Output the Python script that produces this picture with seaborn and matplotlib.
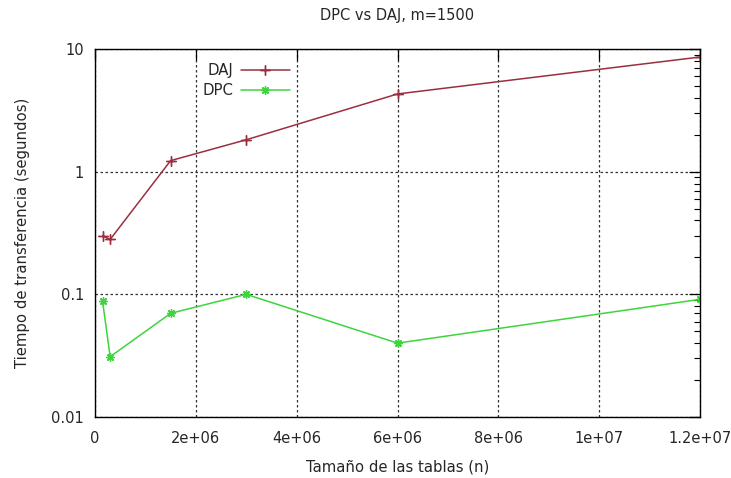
import numpy as np
import pandas as pd
import matplotlib
matplotlib.use('Agg')
import matplotlib.pyplot as plt
import seaborn as sns
from matplotlib.ticker import FixedLocator, NullFormatter, LogLocator

# datos
n_tablas = [150000, 300000, 1500000, 3000000, 6000000, 12000000]
t_daj = [0.30, 0.28, 1.23, 1.82, 4.3, 8.6]
t_dpc = [0.088, 0.031, 0.070, 0.100, 0.040, 0.091]
x_ticks = [0, 2e6, 4e6, 6e6, 8e6, 1e7, 1.2e7]
x_labels = ['0', '2e+06', '4e+06', '6e+06', '8e+06', '1e+07', '1.2e+07']
y_ticks = [0.01, 0.1, 1, 10]
y_labels = ['0.01', '0.1', '1', '10']

df = pd.DataFrame({'n': n_tablas * 2,
                   't': t_daj + t_dpc,
                   'metodo': ['DAJ'] * len(n_tablas) + ['DPC'] * len(n_tablas)})

sns.set_style('white')
plt.rcParams['font.family'] = ['DejaVu Sans']

fig = plt.figure(figsize=(7.31, 4.78), dpi=100)
ax = fig.add_axes([95 / 731, 61 / 478, 605 / 731, 368 / 478])

colores = {'DAJ': '#9b2f40', 'DPC': '#3ed43e'}
marcadores = {'DAJ': (4, 2, 0), 'DPC': (8, 2, 0)}
tamanos = {'DAJ': 7.5, 'DPC': 6}
for met in ['DAJ', 'DPC']:
    sns.lineplot(data=df[df.metodo == met], x='n', y='t', ax=ax,
                 color=colores[met], marker=marcadores[met], markersize=tamanos[met],
                 markeredgewidth=1.0, markeredgecolor=colores[met],
                 linewidth=1.1, label=met)

ax.set_yscale('log')
ax.set_xlim(0, 1.2e7)
ax.set_ylim(0.01, 10)
ax.xaxis.set_major_locator(FixedLocator(x_ticks))
ax.set_xticklabels(x_labels)
ax.yaxis.set_major_locator(FixedLocator(y_ticks))
ax.set_yticklabels(y_labels)
ax.yaxis.set_minor_locator(LogLocator(base=10, subs=np.arange(2, 10)))
ax.yaxis.set_minor_formatter(NullFormatter())

ax.grid(True, which='major', linestyle=(0, (2, 2)), color='#333333', linewidth=0.9)
ax.tick_params(which='both', direction='in', top=True, right=True, labelsize=10.5,
               color='black')
ax.tick_params(axis='x', pad=10)
ax.tick_params(axis='y', pad=8)
ax.tick_params(which='major', length=8, width=0.9)
ax.tick_params(which='minor', length=4, width=0.8)
for s in ax.spines.values():
    s.set_color('black')
    s.set_linewidth(1.0)

ax.set_xlabel('Tamaño de las tablas (n)', fontsize=10.7, labelpad=10)
ax.set_ylabel('Tiempo de transferencia (segundos)', fontsize=10.7, labelpad=15)
ax.set_title('DPC vs DAJ, m=1500', fontsize=10.5, pad=21)

leg = ax.legend(loc='upper left', bbox_to_anchor=(0.16, 0.99), frameon=False,
                markerfirst=False, handlelength=3.3, fontsize=10.7,
                labelspacing=0.35, borderpad=0.2, handletextpad=0.5)

fig.savefig('out.png', dpi=100)
